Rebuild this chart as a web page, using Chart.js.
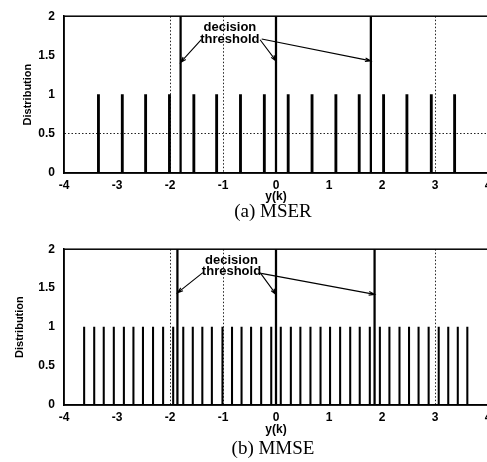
<!DOCTYPE html>
<html lang="en">
<head>
<meta charset="UTF-8">
<title>MSER vs MMSE distribution</title>
<script src="https://cdn.jsdelivr.net/npm/chart.js"></script>
<style>
  body { margin: 0; background: #fff; width: 487px; height: 462px; overflow: hidden; position: relative; }
  .panel { position: absolute; left: 0; width: 500px; height: 205px; }
  .caption { position: absolute; transform: translateX(-50%); font-family: "Liberation Serif", "DejaVu Serif", serif;
             font-size: 19px; line-height: 19px; color: #000; white-space: nowrap; }
</style>
</head>
<body>
<div class="panel" style="top:0"><canvas id="mser"></canvas></div>
<div class="caption" style="left:273px; top:201px">(a) MSER</div>
<div class="panel" style="top:233px"><canvas id="mmse"></canvas></div>
<div class="caption" style="left:273px; top:438px">(b) MMSE</div>
<script>
// axis ranges / ticks
const xRange = [-4, 4];
const yRange = [0, 2];
const xStep = 1;
const yStep = 0.5;
const gridX = [-2, -1, 3];

// (a) MSER: noise-free output states of y(k)
const mserStates = [-3.35, -2.90, -2.46, -2.01, -1.55, -1.12, -0.67, -0.22,
                    0.23, 0.68, 1.13, 1.57, 2.03, 2.47, 2.93, 3.37];
const mserDist = [1, 1, 1, 1, 1, 1, 1, 1, 1, 1, 1, 1, 1, 1, 1, 1];
const mserThresholds = [-1.8, 0, 1.79];
const mserGridY = [0.5];

// (b) MMSE
const mmseStates = [-3.62, -3.43, -3.25, -3.06, -2.87, -2.69, -2.51, -2.32, -2.13, -1.94,
                    -1.75, -1.57, -1.39, -1.21, -1.01, -0.83, -0.65, -0.47, -0.28, -0.09,
                    0.09, 0.28, 0.46, 0.65, 0.84, 1.02, 1.21, 1.40, 1.58, 1.77,
                    1.96, 2.14, 2.33, 2.51, 2.69, 2.88, 3.07, 3.25, 3.43, 3.61];
const mmseDist = [1, 1, 1, 1, 1, 1, 1, 1, 1, 1, 1, 1, 1, 1, 1, 1, 1, 1, 1, 1,
                  1, 1, 1, 1, 1, 1, 1, 1, 1, 1, 1, 1, 1, 1, 1, 1, 1, 1, 1, 1];
const mmseThresholds = [-1.86, 0, 1.86];
const mmseGridY = [];

// threshold lines reach the top of the plot
const thresholdTop = 2;

// "decision threshold" note, in data units
const noteLines = ['decision', 'threshold'];
const mserNote = { x: -0.87, y: [1.86, 1.70],
  arrows: [[-1.41, 1.70, -1.8, 1.41], [-0.30, 1.70, 0, 1.43], [-0.27, 1.71, 1.79, 1.43]] };
const mmseNote = { x: -0.84, y: [1.85, 1.71],
  arrows: [[-1.38, 1.70, -1.86, 1.44], [-0.30, 1.70, 0, 1.42], [-0.28, 1.69, 1.86, 1.42]] };

const sans = '"Liberation Sans", Arial, sans-serif';

// box around the plot plus the arrow note
const framePlugin = {
  id: 'frame',
  afterDatasetsDraw(chart, args, opts) {
    const { ctx, chartArea: a, scales: { x, y } } = chart;
    ctx.save();
    ctx.strokeStyle = '#000';
    ctx.lineWidth = 1.5;
    ctx.strokeRect(a.left, a.top, a.right - a.left, a.bottom - a.top);

    ctx.fillStyle = '#000';
    ctx.font = 'bold 13px ' + sans;
    ctx.textAlign = 'center';
    ctx.textBaseline = 'middle';
    const tx = x.getPixelForValue(opts.note.x);
    noteLines.forEach((t, i) => ctx.fillText(t, tx, y.getPixelForValue(opts.note.y[i])));

    ctx.lineWidth = 1.1;
    opts.note.arrows.forEach(([x0, y0, x1, y1]) => {
      const px0 = x.getPixelForValue(x0), py0 = y.getPixelForValue(y0);
      const px1 = x.getPixelForValue(x1), py1 = y.getPixelForValue(y1);
      const ang = Math.atan2(py1 - py0, px1 - px0);
      ctx.beginPath();
      ctx.moveTo(px0, py0);
      ctx.lineTo(px1, py1);
      ctx.moveTo(px1 - 6 * Math.cos(ang - 0.3), py1 - 6 * Math.sin(ang - 0.3));
      ctx.lineTo(px1, py1);
      ctx.lineTo(px1 - 6 * Math.cos(ang + 0.3), py1 - 6 * Math.sin(ang + 0.3));
      ctx.stroke();
    });
    ctx.restore();
  }
};

function makeChart(id, states, dist, thresholds, gridY, stemWidth, note, yTitlePad, xHeight) {
  const stems = states.map((s, i) => ({ x: s, y: dist[i] }));
  const thr = thresholds.map(t => ({ x: t, y: thresholdTop }));
  return new Chart(document.getElementById(id), {
    type: 'bar',
    data: {
      datasets: [
        { data: thr, backgroundColor: '#000', barThickness: 1.6, grouped: false, borderWidth: 0 },
        { data: stems, backgroundColor: '#000', barThickness: stemWidth, grouped: false, borderWidth: 0 }
      ]
    },
    options: {
      responsive: true,
      maintainAspectRatio: false,
      animation: false,
      layout: { padding: { top: 15, right: 12, left: 0, bottom: 0 } },
      plugins: { legend: { display: false }, tooltip: { enabled: false }, frame: { note: note } },
      scales: {
        x: {
          type: 'linear', min: xRange[0], max: xRange[1], offset: false,
          grid: {
            offset: false, drawTicks: false, lineWidth: 1,
            color: c => gridX.includes(c.tick.value) ? '#222' : 'rgba(0,0,0,0)'
          },
          border: { color: '#000', width: 1.5, dash: [1.5, 2] },
          ticks: { stepSize: xStep, padding: 5, color: '#000', font: { family: sans, size: 12, weight: 'bold' } },
          title: { display: true, text: 'y(k)', color: '#000', padding: { top: 0, bottom: 1 },
                   font: { family: sans, size: 12, weight: 'bold' } },
          afterFit: s => { s.height = xHeight; }
        },
        y: {
          min: yRange[0], max: yRange[1],
          grid: {
            drawTicks: false, lineWidth: 1,
            color: c => gridY.includes(c.tick.value) ? '#222' : 'rgba(0,0,0,0)'
          },
          border: { color: '#000', width: 1.5, dash: [1.5, 2] },
          ticks: { stepSize: yStep, padding: 9, color: '#000', font: { family: sans, size: 12, weight: 'bold' },
                   callback: v => String(v) },
          title: { display: true, text: 'Distribution', color: '#000', padding: { top: yTitlePad, bottom: 0 },
                   font: { family: sans, size: 11, weight: 'bold' } },
          afterFit: s => { s.width = 64; }
        }
      }
    },
    plugins: [framePlugin]
  });
}

makeChart('mser', mserStates, mserDist, mserThresholds, mserGridY, 2.2, mserNote, 21, 32);
makeChart('mmse', mmseStates, mmseDist, mmseThresholds, mmseGridY, 1.4, mmseNote, 13, 33);
</script>
</body>
</html>
